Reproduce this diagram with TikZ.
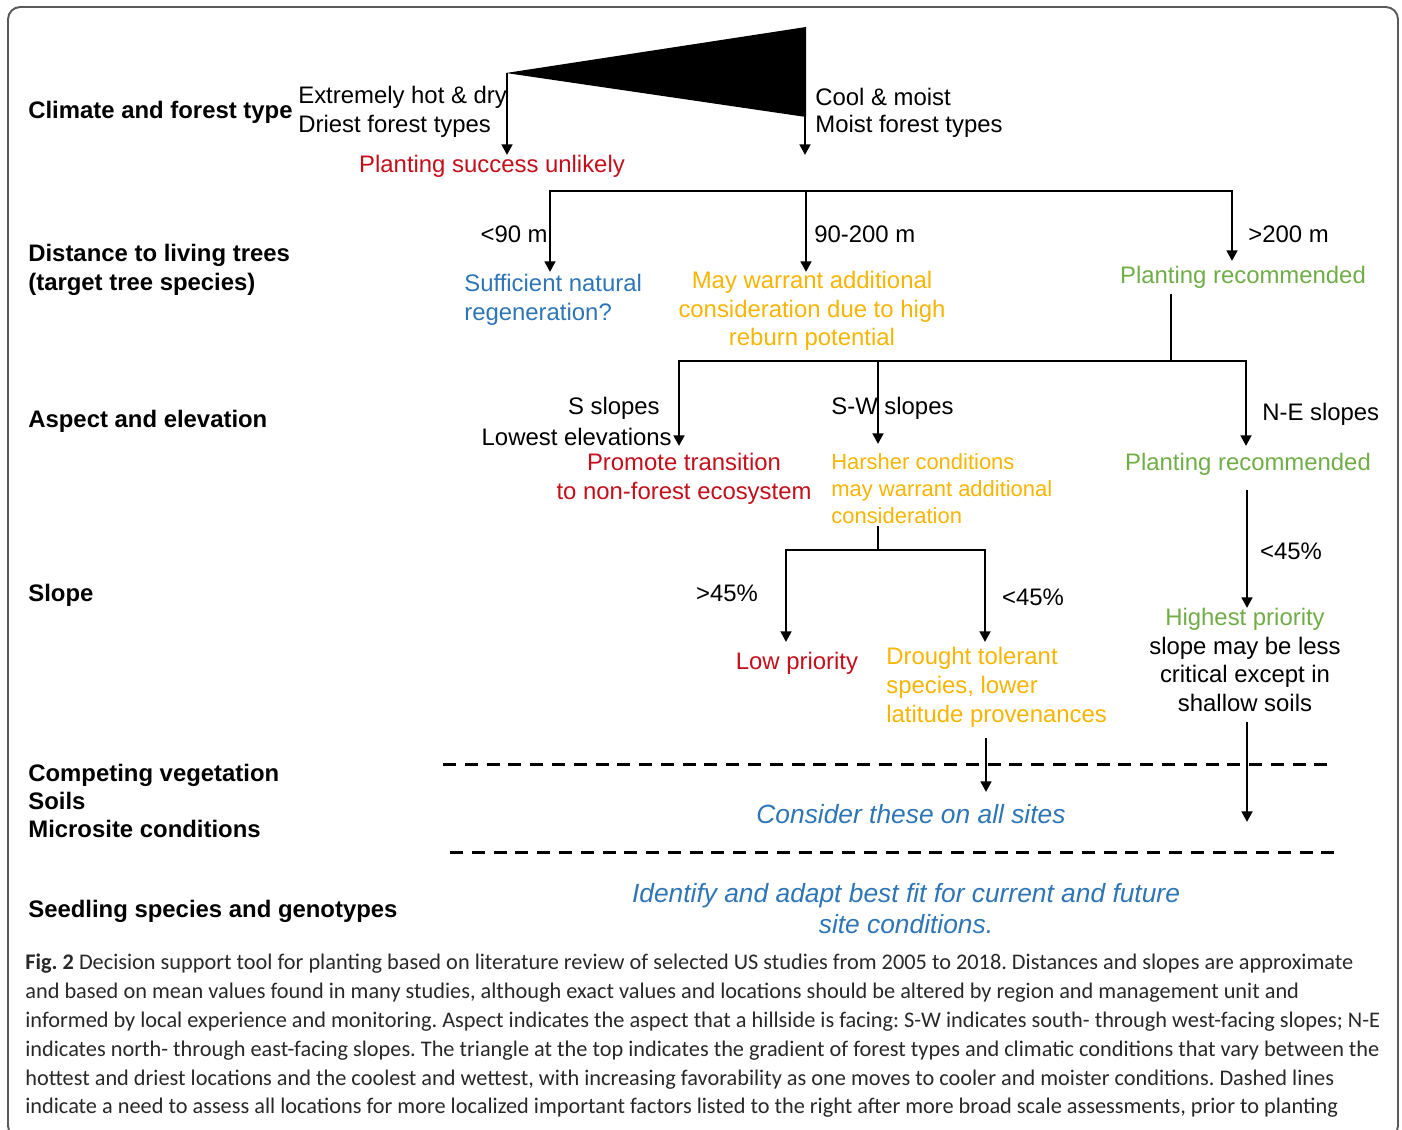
\documentclass[tikz,border=0pt]{standalone}
\usepackage{fontspec}
\setmainfont{Liberation Sans}
\newfontfamily\capfont{Carlito}
\usepackage{xcolor}
\usetikzlibrary{arrows.meta}

\definecolor{dsred}{RGB}{196,14,26}
\definecolor{dsorange}{RGB}{247,180,0}
\definecolor{dsblue}{RGB}{46,117,182}
\definecolor{dsgreen}{RGB}{112,173,71}
\definecolor{dscap}{RGB}{40,40,40}

\begin{document}
\frenchspacing
\begin{tikzpicture}[x=0.02cm,y=-0.02cm,
    txt/.style={inner sep=0pt,font=\fontsize{13.6}{16.4}\selectfont},
    small/.style={inner sep=0pt,font=\fontsize{12.5}{15.3}\selectfont},
    lab/.style={txt,anchor=west,font=\fontsize{13.6}{16.1}\selectfont\bfseries},
    note/.style={inner sep=0pt,text=dsblue,font=\fontsize{15}{17.6}\selectfont\itshape},
    bar/.style={line width=1.6pt,line cap=rect},
    arr/.style={line width=1.6pt,-{Triangle[length=6pt,width=6pt]}},
    cut/.style={line width=1.7pt,dash pattern=on 7.4pt off 5pt}]
    \useasboundingbox (0,0) rectangle (1402,1129);
    \draw[gray!70!black,line width=1.1pt,rounded corners=7pt] (8,1138) rectangle (1398,7);

    % row labels
    \node[lab] (climate) at (28,112) {Climate and forest type};
    \node[lab,align=left] (dist) at (28,270) {Distance to living trees\\(target tree species)};
    \node[lab] (aspect) at (28,421) {Aspect and elevation};
    \node[lab] (slope) at (28,595) {Slope};
    \node[lab,align=left] (site) at (28,801) {Competing vegetation\\Soils\\Microsite conditions};
    \node[lab] (seed) at (28,911) {Seedling species and genotypes};

    % climate gradient
    \coordinate (dry) at (506,73);
    \coordinate (moistT) at (806,27);
    \coordinate (moistB) at (806,117);
    \fill (dry) -- (moistT) -- (moistB) -- cycle;
    \coordinate (dryA) at (507,73);
    \coordinate (dryE) at (507,155);
    \coordinate (moistA) at (805,112);
    \coordinate (moistE) at (805,155);
    \draw[arr] (dryA) -- (dryE);
    \draw[arr] (moistA) -- (moistE);
    \node[txt,anchor=west] (hot) at (298,97) {Extremely hot \& dry};
    \node[txt,anchor=west] (driest) at (298,126) {Driest forest types};
    \node[txt,anchor=west] (cool) at (815,97) {Cool \& moist};
    \node[txt,anchor=west] (moist) at (815,126) {Moist forest types};
    \node[txt,text=dsred] (unlikely) at (492,166) {Planting success unlikely};

    % distance
    \coordinate (d1) at (550,191);
    \coordinate (d2) at (806,191);
    \coordinate (d3) at (1232,191);
    \coordinate (d1e) at (550,272);
    \coordinate (d2e) at (806,272);
    \coordinate (d3e) at (1232,261);
    \draw[bar] (d1) -- (d3);
    \draw[arr] (d1) -- (d1e);
    \draw[arr] (d2) -- (d2e);
    \draw[arr] (d3) -- (d3e);
    \node[txt,anchor=east] (near) at (548,234) {<90 m};
    \node[txt,anchor=west] (mid) at (814,234) {90-200 m};
    \node[txt,anchor=west] (far) at (1248,234) {>200 m};
    \node[txt,text=dsblue,anchor=west,align=left] (regen) at (464,300) {Sufficient natural\\regeneration?};
    \node[txt,text=dsorange,align=center] (reburn) at (812,311) {May warrant additional\\consideration due to high\\reburn potential};
    \node[txt,text=dsgreen] (plant1) at (1243,277) {Planting recommended};

    % aspect
    \coordinate (p1) at (1171,295);
    \coordinate (a0) at (1171,361);
    \coordinate (a1) at (679,361);
    \coordinate (a2) at (878,361);
    \coordinate (a3) at (1246,361);
    \coordinate (a1e) at (679,446);
    \coordinate (a2e) at (878,444);
    \coordinate (a3e) at (1246,446);
    \draw[bar] (p1) -- (a0);
    \draw[bar] (a1) -- (a3);
    \draw[arr] (a1) -- (a1e);
    \draw[arr] (a2) -- (a2e);
    \draw[arr] (a3) -- (a3e);
    \node[txt,anchor=east] (sslope) at (660,408) {S slopes};
    \node[txt,anchor=east] (lowest) at (672,437) {Lowest elevations};
    \node[txt,anchor=west] (swslope) at (831,408) {S-W slopes};
    \node[txt,anchor=west] (neslope) at (1262,414) {N-E slopes};
    \node[txt,text=dsred,align=center] (nonforest) at (684,479) {Promote transition\\to non-forest ecosystem};
    \node[small,text=dsorange,anchor=west,align=left] (harsh) at (831,489) {Harsher conditions\\may warrant additional\\consideration};
    \node[txt,text=dsgreen] (plant2) at (1248,464) {Planting recommended};

    % slope
    \coordinate (h0) at (878,527);
    \coordinate (s0) at (878,550);
    \coordinate (s1) at (786,550);
    \coordinate (s2) at (985,550);
    \coordinate (s1e) at (786,642);
    \coordinate (s2e) at (985,642);
    \coordinate (n0) at (1247,490);
    \coordinate (n1) at (1247,608);
    \draw[bar] (h0) -- (s0);
    \draw[bar] (s1) -- (s2);
    \draw[arr] (s1) -- (s1e);
    \draw[arr] (s2) -- (s2e);
    \draw[arr] (n0) -- (n1);
    \node[txt] (steep) at (727,593) {>45\%};
    \node[txt] (gentle) at (1033,597) {<45\%};
    \node[txt] (gentleNE) at (1291,551) {<45\%};
    \node[txt,text=dsred] (low) at (797,663) {Low priority};
    \node[txt,text=dsorange,anchor=west,align=left] (drought) at (886,687) {Drought tolerant\\species, lower\\latitude provenances};
    \node[txt,align=center] (high) at (1245,660) {\textcolor{dsgreen}{Highest priority}\\slope may be less\\critical except in\\shallow soils};

    % site factors
    \coordinate (c1) at (443,764);
    \coordinate (c2) at (1335,764);
    \coordinate (c3) at (450,852);
    \coordinate (c4) at (1340,852);
    \draw[cut] (c1) -- (c2);
    \draw[cut] (c3) -- (c4);
    \coordinate (t0) at (986,738);
    \coordinate (t1) at (986,792);
    \coordinate (q0) at (1247,722);
    \coordinate (q1) at (1247,822);
    \draw[arr] (t0) -- (t1);
    \draw[arr] (q0) -- (q1);
    \node[note] (allsites) at (911,814) {Consider these on all sites};
    \node[note,align=center] (bestfit) at (906,909) {Identify and adapt best fit for current and future\\site conditions.};

    % caption
    \node[inner sep=0pt,anchor=west,align=left,text=dscap,font=\capfont\fontsize{12.7}{16.4}\selectfont] (caption) at (25,1036)
        {\textbf{Fig. 2} Decision support tool for planting based on literature review of selected US studies from 2005 to 2018. Distances and slopes are approximate\\
        and based on mean values found in many studies, although exact values and locations should be altered by region and management unit and\\
        informed by local experience and monitoring. Aspect indicates the aspect that a hillside is facing: S-W indicates south- through west-facing slopes; N-E\\
        indicates north- through east-facing slopes. The triangle at the top indicates the gradient of forest types and climatic conditions that vary between the\\
        hottest and driest locations and the coolest and wettest, with increasing favorability as one moves to cooler and moister conditions. Dashed lines\\
        indicate a need to assess all locations for more localized important factors listed to the right after more broad scale assessments, prior to planting};
\end{tikzpicture}
\end{document}
